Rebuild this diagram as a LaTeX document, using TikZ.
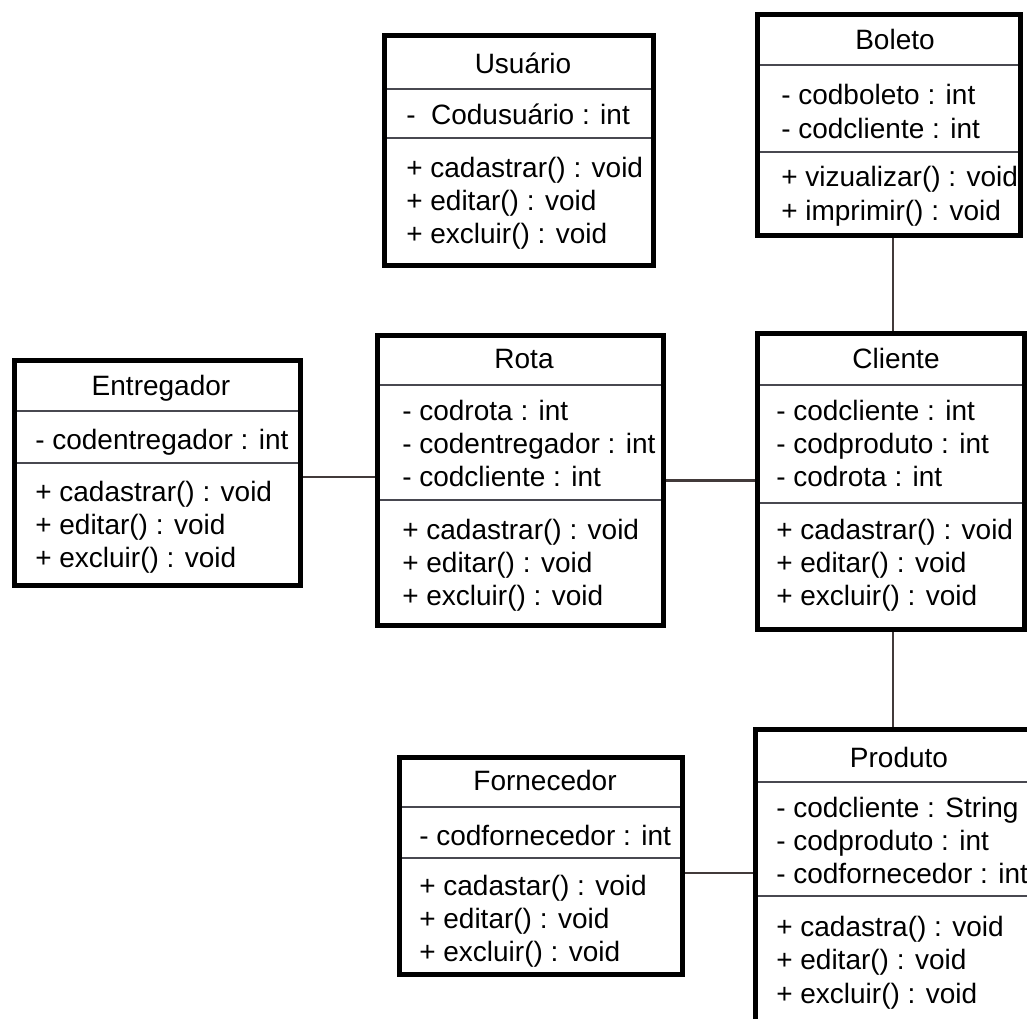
\documentclass[tikz,border=0pt]{standalone}
\usepackage{fontspec}
\setmainfont{Liberation Sans}
\usepackage{tikz}
\definecolor{sepgray}{RGB}{72,72,80}
\definecolor{linkgray}{RGB}{66,58,58}

\begin{document}
\begin{tikzpicture}[x=0.75pt,y=0.75pt,yscale=-1,xscale=1,
    classbox/.style={draw=black, line width=3.75pt, inner sep=0pt, rectangle},
    sepline/.style={draw=sepgray, line width=1.6pt},
    link/.style={draw=linkgray, line width=1.6pt},
    classtitle/.style={anchor=base, inner sep=0pt, font=\fontsize{21}{25}\selectfont},
    members/.style={anchor=base west, align=left, inner sep=0pt, font=\fontsize{21}{25}\selectfont}]
    \clip (0,0) rectangle (1027,1019);

    %Separators
    \draw [sepline] (384.5,89) -- (653.5,89) (384.5,138) -- (653.5,138) ;
    \draw [sepline] (757.5,65) -- (1020,65) (757.5,152) -- (1020,152) ;
    \draw [sepline] (14.5,411) -- (300.5,411) (14.5,463) -- (300.5,463) ;
    \draw [sepline] (377.5,385) -- (663.5,385) (377.5,500) -- (663.5,500) ;
    \draw [sepline] (757.5,385) -- (1024.5,385) (757.5,503) -- (1024.5,503) ;
    \draw [sepline] (399.5,807) -- (682.5,807) (399.5,858) -- (682.5,858) ;
    \draw [sepline] (755.5,782) -- (1060,782) (755.5,896) -- (1060,896) ;

    %Shape: Class boxes
    \node [classbox, minimum width=201.75pt, minimum height=172.5pt] (usuario) at (519,150.5) {};
    \node [classbox, minimum width=196.875pt, minimum height=165.75pt] (boleto) at (888.75,125) {};
    \node [classbox, minimum width=214.5pt, minimum height=168.75pt] (entregador) at (157.5,473) {};
    \node [classbox, minimum width=214.5pt, minimum height=217.5pt] (rota) at (520.5,480.5) {};
    \node [classbox, minimum width=200.25pt, minimum height=221.625pt] (cliente) at (891,481.75) {};
    \node [classbox, minimum width=212.25pt, minimum height=162.75pt] (fornecedor) at (541,866) {};
    \node [classbox, minimum width=228.375pt, minimum height=232.875pt] (produto) at (907.75,884.75) {};

    %Connectors (yscale=-1, so a positive yshift goes down)
    \draw [link] ([yshift=3pt]entregador.east) -- ([yshift=3pt]entregador.east -| rota.west) ;
    \draw [link] (rota.east) -- (rota.east -| cliente.west) ;
    \draw [link] ([xshift=3pt]boleto.south) -- ([xshift=3pt]boleto.south |- cliente.north) ;
    \draw [link] ([xshift=1.5pt]cliente.south) -- ([xshift=1.5pt]cliente.south |- produto.north) ;
    \draw [link] ([yshift=5pt]fornecedor.east) -- ([yshift=5pt]fornecedor.east -| produto.west) ;

    % Text Node (multi-line members sit on the baseline of their last line)
    \node [classtitle] (usuarioTitle) at (523,74) {Usuário};
    \node [members] (usuarioAttr) at (406,125) {-\ \ Codusuário : int};
    \node [members] (usuarioOps) at (406,243.7) {+ cadastrar() : void\\+ editar() : void\\+ excluir() : void};
    % Text Node
    \node [classtitle] (boletoTitle) at (895,50) {Boleto};
    \node [members] (boletoAttr) at (781,138.3) {- codboleto : int\\- codcliente : int};
    \node [members] (boletoOps) at (781,220.3) {+ vizualizar() : void\\+ imprimir() : void};
    % Text Node
    \node [classtitle] (entregadorTitle) at (161,396) {Entregador};
    \node [members] (entregadorAttr) at (35,449) {- codentregador : int};
    \node [members] (entregadorOps) at (35,567.7) {+ cadastrar() : void\\+ editar() : void\\+ excluir() : void};
    % Text Node
    \node [classtitle] (rotaTitle) at (524,369) {Rota};
    \node [members] (rotaAttr) at (402,486.7) {- codrota : int\\- codentregador : int\\- codcliente : int};
    \node [members] (rotaOps) at (402,605.7) {+ cadastrar() : void\\+ editar() : void\\+ excluir() : void};
    % Text Node
    \node [classtitle] (clienteTitle) at (896,369) {Cliente};
    \node [members] (clienteAttr) at (776,486.7) {- codcliente : int\\- codproduto : int\\- codrota : int};
    \node [members] (clienteOps) at (776,605.7) {+ cadastrar() : void\\+ editar() : void\\+ excluir() : void};
    % Text Node
    \node [classtitle] (fornecedorTitle) at (545,790) {Fornecedor};
    \node [members] (fornecedorAttr) at (419,845) {- codfornecedor : int};
    \node [members] (fornecedorOps) at (419,961.7) {+ cadastar() : void\\+ editar() : void\\+ excluir() : void};
    % Text Node
    \node [classtitle] (produtoTitle) at (899,767) {Produto};
    \node [members] (produtoAttr) at (776,883.7) {- codcliente : String\\- codproduto : int\\- codfornecedor : int};
    \node [members] (produtoOps) at (776,1003) {+ cadastra() : void\\+ editar() : void\\+ excluir() : void};

\end{tikzpicture}
\end{document}
